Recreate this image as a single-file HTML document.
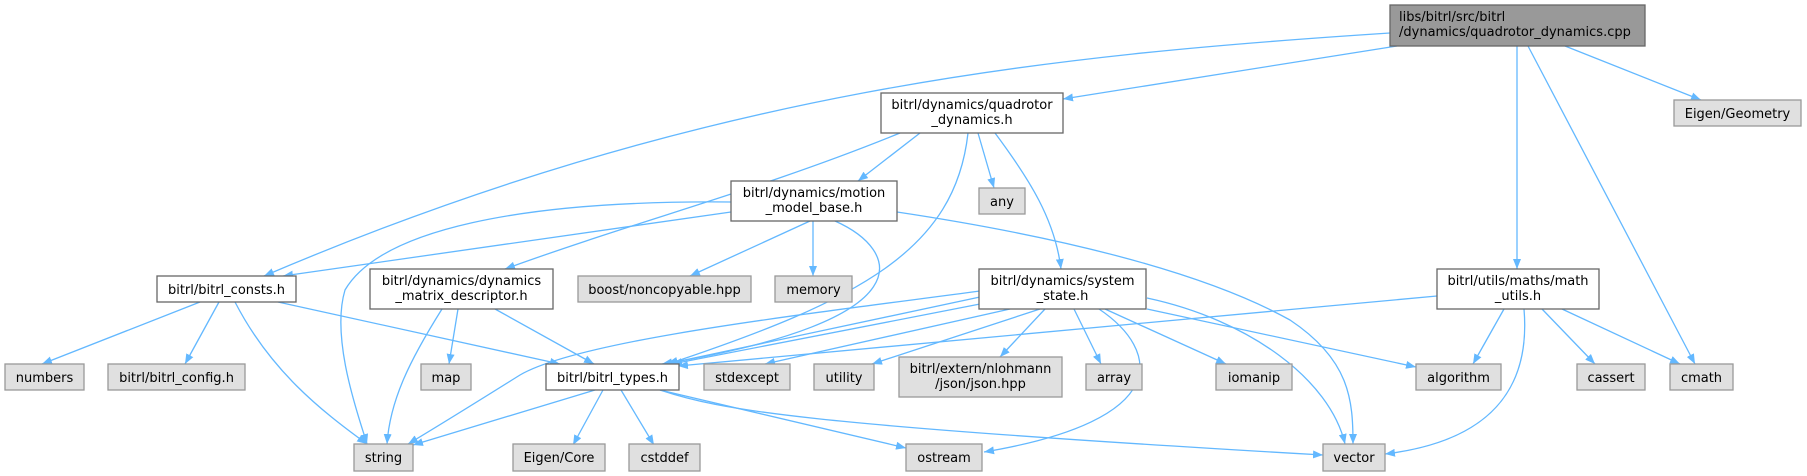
<!DOCTYPE html>
<html><head><meta charset="utf-8"><style>
html,body{margin:0;padding:0;background:#fff;}
svg{display:block;}
text{font-family:"DejaVu Sans","Liberation Sans",sans-serif;font-size:13px;fill:#000;}
.e{fill:none;stroke:#63b8ff;stroke-width:1.3;marker-end:url(#a);}
.w{fill:#fff;stroke:#666;stroke-width:1.3;}
.g{fill:#e0e0e0;stroke:#999;stroke-width:1.3;}
</style></head><body>
<svg width="1807" height="476" viewBox="0 0 1807 476" xmlns="http://www.w3.org/2000/svg">
<defs><marker id="a" markerUnits="userSpaceOnUse" markerWidth="11" markerHeight="8" refX="10" refY="4" orient="auto"><path d="M0,0 L10,4 L0,8 z" fill="#63b8ff"/></marker></defs>

<path class="e" d="M1390,33 C1050,55 700,90 264,276"/>
<path class="e" d="M1397,46 L1063,99"/>
<path class="e" d="M1517,46 L1517,269"/>
<path class="e" d="M1528,46 L1695,364"/>
<path class="e" d="M1565,46 L1701,100"/>

<path class="e" d="M900,133 C760,190 640,220 505,269"/>
<path class="e" d="M920,133 L858,181"/>
<path class="e" d="M968,133 C955,250 860,300 668,364"/>
<path class="e" d="M978,133 L994,188"/>
<path class="e" d="M995,133 C1030,180 1055,220 1061,269"/>

<path class="e" d="M731,202 C520,200 380,230 345,290 C330,340 360,420 367,444"/>
<path class="e" d="M731,212 L283,276"/>
<path class="e" d="M810,221 L690,276"/>
<path class="e" d="M813,221 L813,276"/>
<path class="e" d="M835,221 C900,250 930,320 662,364"/>
<path class="e" d="M897,212 C1050,235 1200,270 1290,320 C1350,360 1353,400 1353,444"/>

<path class="e" d="M200,302 L42,364"/>
<path class="e" d="M219,302 L185,364"/>
<path class="e" d="M235,302 C270,370 320,410 367,444"/>
<path class="e" d="M278,302 L560,364"/>

<path class="e" d="M442,309 C410,360 390,400 387,444"/>
<path class="e" d="M458,309 L449,364"/>
<path class="e" d="M495,309 L594,364"/>

<path class="e" d="M980,291 C800,315 580,340 520,375 C480,400 440,425 408,444"/>
<path class="e" d="M980,297 L666,364"/>
<path class="e" d="M980,304 L672,364"/>
<path class="e" d="M1010,309 L765,364"/>
<path class="e" d="M1040,309 L872,364"/>
<path class="e" d="M1045,309 L1000,357"/>
<path class="e" d="M1074,309 L1101,364"/>
<path class="e" d="M1105,309 L1226,364"/>
<path class="e" d="M1099,309 C1160,350 1175,420 984,452"/>
<path class="e" d="M1147,298 C1250,320 1330,380 1345,444"/>
<path class="e" d="M1147,309 L1416,367"/>

<path class="e" d="M1437,296 L678,366"/>
<path class="e" d="M1504,309 L1473,364"/>
<path class="e" d="M1524,309 C1530,380 1500,440 1385,454"/>
<path class="e" d="M1542,309 L1595,364"/>
<path class="e" d="M1562,309 L1680,364"/>

<path class="e" d="M595,390 L413,445"/>
<path class="e" d="M603,390 L573,445"/>
<path class="e" d="M621,390 L654,445"/>
<path class="e" d="M660,390 L906,448"/>
<path class="e" d="M660,390 C720,410 800,425 1323,455"/>

<rect x="1390" y="5" width="255" height="41" fill="#999" stroke="#666" stroke-width="1.3"/>
<text x="1399" y="21">libs/bitrl/src/bitrl</text>
<text x="1399" y="36">/dynamics/quadrotor_dynamics.cpp</text>

<rect class="w" x="881" y="93" width="182" height="40"/>
<text x="972" y="109" text-anchor="middle">bitrl/dynamics/quadrotor</text>
<text x="972" y="124" text-anchor="middle">_dynamics.h</text>

<rect class="g" x="1674" y="100" width="127" height="26"/>
<text x="1737.5" y="118" text-anchor="middle">Eigen/Geometry</text>

<rect class="w" x="731" y="181" width="166" height="40"/>
<text x="814" y="197" text-anchor="middle">bitrl/dynamics/motion</text>
<text x="814" y="212" text-anchor="middle">_model_base.h</text>

<rect class="g" x="979" y="188" width="46" height="26"/>
<text x="1002" y="206" text-anchor="middle">any</text>

<rect class="w" x="157" y="276" width="139" height="26"/>
<text x="226.5" y="294" text-anchor="middle">bitrl/bitrl_consts.h</text>

<rect class="w" x="370" y="269" width="183" height="40"/>
<text x="461.5" y="285" text-anchor="middle">bitrl/dynamics/dynamics</text>
<text x="461.5" y="300" text-anchor="middle">_matrix_descriptor.h</text>

<rect class="g" x="578" y="276" width="173" height="26"/>
<text x="664.5" y="294" text-anchor="middle">boost/noncopyable.hpp</text>

<rect class="g" x="775" y="276" width="77" height="26"/>
<text x="813.5" y="294" text-anchor="middle">memory</text>

<rect class="w" x="979" y="269" width="167" height="40"/>
<text x="1062.5" y="285" text-anchor="middle">bitrl/dynamics/system</text>
<text x="1062.5" y="300" text-anchor="middle">_state.h</text>

<rect class="w" x="1437" y="269" width="162" height="40"/>
<text x="1518" y="285" text-anchor="middle">bitrl/utils/maths/math</text>
<text x="1518" y="300" text-anchor="middle">_utils.h</text>

<rect class="g" x="5" y="364" width="79" height="26"/>
<text x="44.5" y="382" text-anchor="middle">numbers</text>

<rect class="g" x="108" y="364" width="137" height="26"/>
<text x="176.5" y="382" text-anchor="middle">bitrl/bitrl_config.h</text>

<rect class="g" x="421" y="364" width="50" height="26"/>
<text x="446" y="382" text-anchor="middle">map</text>

<rect class="w" x="546" y="364" width="133" height="26"/>
<text x="612.5" y="382" text-anchor="middle">bitrl/bitrl_types.h</text>

<rect class="g" x="704" y="364" width="86" height="26"/>
<text x="747" y="382" text-anchor="middle">stdexcept</text>

<rect class="g" x="814" y="364" width="60" height="26"/>
<text x="844" y="382" text-anchor="middle">utility</text>

<rect class="g" x="899" y="357" width="163" height="40"/>
<text x="980.5" y="373" text-anchor="middle">bitrl/extern/nlohmann</text>
<text x="980.5" y="388" text-anchor="middle">/json/json.hpp</text>

<rect class="g" x="1086" y="364" width="56" height="26"/>
<text x="1114" y="382" text-anchor="middle">array</text>

<rect class="g" x="1216" y="364" width="76" height="26"/>
<text x="1254" y="382" text-anchor="middle">iomanip</text>

<rect class="g" x="1416" y="364" width="85" height="26"/>
<text x="1458.5" y="382" text-anchor="middle">algorithm</text>

<rect class="g" x="1577" y="364" width="68" height="26"/>
<text x="1611" y="382" text-anchor="middle">cassert</text>

<rect class="g" x="1670" y="364" width="63" height="26"/>
<text x="1701.5" y="382" text-anchor="middle">cmath</text>

<rect class="g" x="354" y="444" width="59" height="27"/>
<text x="383.5" y="462" text-anchor="middle">string</text>

<rect class="g" x="513" y="444" width="92" height="27"/>
<text x="559" y="462" text-anchor="middle">Eigen/Core</text>

<rect class="g" x="629" y="444" width="71" height="27"/>
<text x="664.5" y="462" text-anchor="middle">cstddef</text>

<rect class="g" x="906" y="444" width="76" height="27"/>
<text x="944" y="462" text-anchor="middle">ostream</text>

<rect class="g" x="1323" y="444" width="62" height="27"/>
<text x="1354" y="462" text-anchor="middle">vector</text>
</svg>
</body></html>
